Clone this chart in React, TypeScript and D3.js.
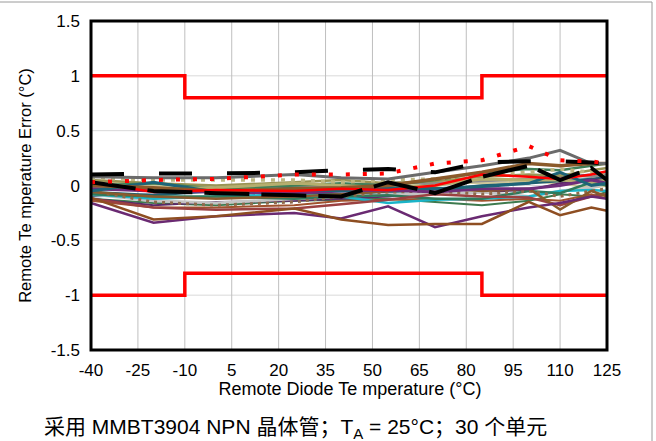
import React from "react";
import * as d3 from "d3";

// Measurement temperatures (°C)
const temps = [-40, -20, 0, 25, 40, 55, 70, 85, 100, 110, 120, 125];

// Axis ticks
const xTicks = [-40, -25, -10, 5, 20, 35, 50, 65, 80, 95, 110, 125];
const yTicks = [1.5, 1, 0.5, 0, -0.5, -1, -1.5];

// Specification limit envelope
const limitTemps = [-40, -10, -10, 85, 85, 125];
const limitUpper = [1, 1, 0.8, 0.8, 1, 1];
const limitLower = [-1, -1, -0.8, -0.8, -1, -1];

// Remote temperature error per unit (°C)
const unitRedDot = [0.03, 0.05, 0.06, 0.1, 0.1, 0.11, 0.2, 0.23, 0.36, 0.23, 0.22, 0.2];
const unitBlackDashA = [0.1, 0.11, 0.11, 0.12, 0.14, 0.15, 0.12, 0.21, 0.22, 0.22, 0.21, 0.2];
const unitBlackDashB = [0.03, -0.05, -0.07, -0.09, -0.1, 0.03, -0.07, 0.08, 0.18, 0.05, 0.16, 0.05];
const unitGray = [0.08, 0.07, 0.07, 0.1, 0.07, 0.06, 0.12, 0.18, 0.25, 0.32, 0.2, 0.2];
const unitPurpleLow = [-0.16, -0.34, -0.28, -0.25, -0.3, -0.19, -0.38, -0.28, -0.2, -0.16, -0.1, -0.12];
const unitBrownLow = [-0.11, -0.31, -0.28, -0.21, -0.31, -0.36, -0.35, -0.35, -0.15, -0.27, -0.2, -0.23];
const unitMaroon = [-0.12, -0.2, -0.22, -0.21, -0.17, -0.13, -0.08, -0.1, -0.11, -0.18, -0.1, -0.08];
const unitPurpleMid = [-0.03, -0.05, -0.06, -0.07, -0.05, -0.04, -0.06, -0.03, -0.03, 0.0, 0.05, 0.02];
const unitTeal = [-0.05, 0.03, -0.06, -0.03, -0.05, -0.02, -0.03, -0.01, 0.02, 0.12, 0.0, 0.02];
const unitKhaki = [0.02, -0.03, -0.02, 0.02, 0.0, -0.02, 0.0, 0.06, 0.05, 0.05, 0.03, 0.05];
const unitKhakiDot = [0.07, 0.05, 0.05, 0.05, 0.03, 0.05, 0.06, 0.1, 0.12, 0.15, 0.12, 0.1];
const unitGreenLow = [-0.08, -0.1, -0.1, -0.12, -0.1, -0.09, -0.12, -0.12, -0.05, -0.07, 0.03, 0.0];
const unitGreenHigh = [0.0, 0.02, -0.03, 0.0, 0.02, 0.0, 0.05, 0.12, 0.15, 0.14, 0.18, 0.2];
const unitCyan = [-0.08, -0.12, -0.1, -0.08, -0.1, -0.16, -0.13, -0.12, -0.1, -0.05, -0.04, -0.05];
const unitLightGray = [-0.08, -0.14, -0.16, -0.12, -0.1, -0.08, -0.08, -0.06, -0.1, -0.05, -0.02, 0.02];
const unitBrownHigh = [0.0, -0.02, -0.05, -0.03, -0.02, 0.0, 0.06, 0.12, 0.2, 0.18, 0.2, 0.2];
const unitBrownDot = [-0.05, -0.15, -0.18, -0.15, -0.1, -0.06, -0.05, -0.08, -0.05, -0.1, -0.05, -0.03];
const unitBrownV = [-0.06, -0.1, -0.12, -0.1, -0.08, -0.05, -0.02, -0.05, -0.03, -0.22, -0.05, -0.1];
const unitRed = [0.03, -0.06, -0.04, -0.05, -0.03, -0.04, 0.0, 0.1, 0.08, 0.06, 0.1, 0.13];
const unitSteel = [-0.1, -0.08, -0.04, -0.02, 0.0, 0.02, 0.01, 0.04, 0.06, 0.08, 0.1, 0.12];
const unitOlive = [0.05, 0.02, 0.0, 0.03, 0.05, 0.02, 0.04, 0.08, 0.1, 0.09, 0.14, 0.16];
const unitPurpleDark = [-0.12, -0.18, -0.15, -0.14, -0.12, -0.1, -0.08, -0.06, -0.04, 0.02, 0.05, 0.06];
const unitGrayMid = [-0.02, -0.04, -0.02, 0.0, -0.02, 0.03, 0.02, 0.04, 0.06, 0.1, 0.08, 0.1];
const unitTealDark = [-0.06, -0.09, -0.05, -0.06, -0.08, -0.06, -0.04, 0.0, 0.02, 0.04, 0.06, 0.08];
const unitGreenMid = [-0.12, -0.16, -0.18, -0.14, -0.13, -0.12, -0.15, -0.18, -0.14, -0.08, -0.1, -0.06];
const unitOrangeBrown = [-0.14, -0.2, -0.2, -0.18, -0.14, -0.13, -0.12, -0.14, -0.12, -0.14, -0.08, -0.12];
const unitKhakiLight = [0.04, 0.0, -0.02, -0.05, -0.04, -0.03, 0.04, 0.02, 0.04, 0.02, -0.02, 0.0];

type Style = { values: number[]; color: string; width: number; dash?: string };

// Drawing order: thin units first, emphasised units last
const units: Style[] = [
  { values: unitSteel, color: "#4a6e8e", width: 2 },
  { values: unitGreenMid, color: "#3d7a4e", width: 2 },
  { values: unitOrangeBrown, color: "#a0522d", width: 2 },
  { values: unitKhakiLight, color: "#cfc79a", width: 2.5 },
  { values: unitTealDark, color: "#1f5f6f", width: 2.5 },
  { values: unitGrayMid, color: "#8c8c8c", width: 2.5 },
  { values: unitPurpleDark, color: "#5b2a68", width: 2 },
  { values: unitOlive, color: "#9a9455", width: 2.5 },
  { values: unitLightGray, color: "#c4c4c4", width: 3 },
  { values: unitCyan, color: "#1bb4c8", width: 2.5 },
  { values: unitGreenLow, color: "#2f7a5c", width: 2.5 },
  { values: unitGreenHigh, color: "#3f7f58", width: 2.5 },
  { values: unitMaroon, color: "#9b4141", width: 2.5 },
  { values: unitBrownDot, color: "#8e6a4c", width: 3, dash: "3 5" },
  { values: unitBrownV, color: "#8a5a2c", width: 2.5 },
  { values: unitKhaki, color: "#b5ae6e", width: 3 },
  { values: unitKhakiDot, color: "#bdb682", width: 3.5, dash: "4 6" },
  { values: unitPurpleMid, color: "#6f2d7a", width: 3 },
  { values: unitTeal, color: "#1d6478", width: 3 },
  { values: unitBrownHigh, color: "#8b5a2b", width: 3.5 },
  { values: unitRed, color: "#ff0000", width: 2.5 },
  { values: unitPurpleLow, color: "#6a2a72", width: 2.5 },
  { values: unitBrownLow, color: "#8e4e22", width: 2.5 },
  { values: unitGray, color: "#6b6b6b", width: 3 },
  { values: unitBlackDashB, color: "#000000", width: 4, dash: "45 12" },
  { values: unitBlackDashA, color: "#000000", width: 4, dash: "33 35" },
  { values: unitRedDot, color: "#ff0000", width: 4, dash: "4 13" },
];

const W = 656;
const H = 441;
const plot = { left: 91, right: 607, top: 21, bottom: 350 };
const font = "'Liberation Sans', Arial, 'Noto Sans CJK SC', sans-serif";

export default function App() {
  const x = d3.scaleLinear().domain([-40, 125]).range([plot.left, plot.right]);
  const y = d3.scaleLinear().domain([-1.5, 1.5]).range([plot.bottom, plot.top]);

  const line = d3
    .line<number>()
    .x((_, i) => x(temps[i]))
    .y((v) => y(v));

  const limitLine = (vals: number[]) =>
    d3
      .line<number>()
      .x((_, i) => x(limitTemps[i]))
      .y((v) => y(v))(vals) as string;

  return (
    <svg
      width={W}
      height={H}
      style={{ position: "absolute", left: 0, top: 0, background: "#fff" }}
      fontFamily={font}
    >
      <rect x={0} y={0} width={W} height={H} fill="#fff" />
      {/* outer frame */}
      <line x1={0} x2={652} y1={2} y2={2} stroke="#9a9a9a" strokeWidth={1} />
      <line x1={652} x2={652} y1={2} y2={H} stroke="#9a9a9a" strokeWidth={1} />

      {/* gridlines */}
      {yTicks.map((t) => (
        <line
          key={"gy" + t}
          x1={plot.left}
          x2={plot.right}
          y1={y(t)}
          y2={y(t)}
          stroke="#d9d9d9"
          strokeWidth={1}
        />
      ))}
      {xTicks.map((t) => (
        <line
          key={"gx" + t}
          x1={x(t)}
          x2={x(t)}
          y1={plot.top}
          y2={plot.bottom}
          stroke="#bfbfbf"
          strokeWidth={1}
        />
      ))}

      {/* units */}
      <g fill="none" strokeLinejoin="miter" strokeLinecap="butt">
        {units.map((u, i) => (
          <path
            key={i}
            d={line(u.values) as string}
            stroke={u.color}
            strokeWidth={u.width}
            strokeDasharray={u.dash}
          />
        ))}
      </g>

      {/* limits */}
      <g fill="none" stroke="#ff0000" strokeWidth={3.5}>
        <path d={limitLine(limitUpper)} />
        <path d={limitLine(limitLower)} />
      </g>

      {/* plot border */}
      <rect
        x={plot.left}
        y={plot.top}
        width={plot.right - plot.left}
        height={plot.bottom - plot.top}
        fill="none"
        stroke="#000"
        strokeWidth={3}
      />

      {/* y tick labels */}
      {yTicks.map((t) => (
        <text
          key={"ty" + t}
          x={80}
          y={y(t)}
          dy="0.36em"
          textAnchor="end"
          fontSize={17}
          fill="#000"
        >
          {String(t)}
        </text>
      ))}
      {/* x tick labels */}
      {xTicks.map((t) => (
        <text
          key={"tx" + t}
          x={x(t)}
          y={376}
          textAnchor="middle"
          fontSize={17}
          fill="#000"
        >
          {String(t)}
        </text>
      ))}

      {/* axis titles */}
      <text x={350} y={395} textAnchor="middle" fontSize={18} fill="#000">
        Remote Diode Te mperature (°C)
      </text>
      <text
        transform={`translate(31, ${(plot.top + plot.bottom) / 2}) rotate(-90)`}
        textAnchor="middle"
        fontSize={16.5}
        fill="#000"
      >
        Remote Te mperature Error (°C)
      </text>

      {/* caption */}
      <text x={44} y={434} fontSize={21} fill="#000">
        采用 MMBT3904 NPN 晶体管；T
        <tspan fontSize={15} dy={5}>A</tspan>
        <tspan dy={-5}> = 25°C；30 个单元</tspan>
      </text>
    </svg>
  );
}
